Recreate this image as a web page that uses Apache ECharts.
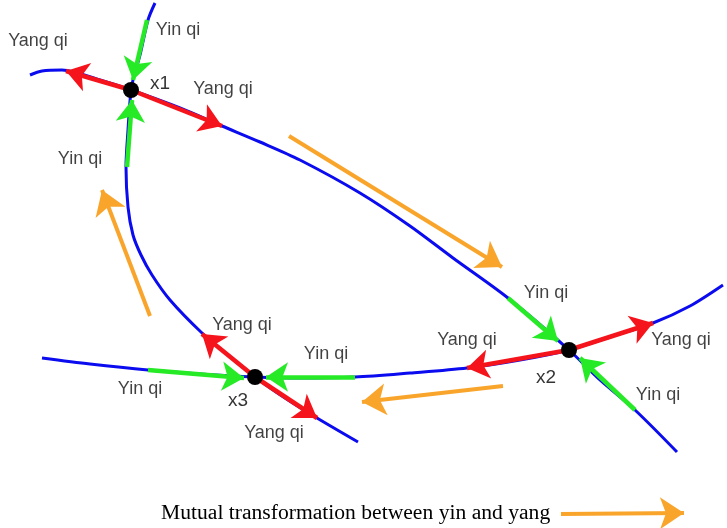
<!DOCTYPE html>
<html><head><meta charset="utf-8">
<script src="https://cdn.jsdelivr.net/npm/echarts@6/dist/echarts.min.js"></script>
<style>html,body{margin:0;padding:0;background:#fff}#c{width:727px;height:528px}</style>
</head><body><div id="c"></div>
<script>
// Curves (x, y in picture units, y downward)
const curveX1X2 = [[30,75],[42,71],[62,70],[100,80],[131,90],[180,108],[222,126],[260,142],[300,160],[360,193],[410,226],[453,258],[508,298],[569,350],[600,380],[635,410],[677,452]];
const curveX1X3 = [[155,3],[148,20],[140,55],[133,80],[131,90],[128,130],[126,167],[128,207],[133,235],[141,255],[152,275],[170,300],[202,333],[228,355],[255,377],[285,398],[317,418],[358,442]];
const curveX3X2 = [[42,358],[90,364],[148,370],[200,374],[255,377],[300,378],[355,377],[410,373],[467,368],[520,360],[569,350],[610,337],[653,323],[690,306],[723,285]];
// Equilibrium points
const pointNames = ['x1','x2','x3'];
const points = [[131,90],[569,350],[255,377]];
// Arrows: [from, to]
const yangArrows = [[[131,90],[66,71]],[[131,90],[222,126]],[[569,350],[467,368]],[[569,350],[653,323]],[[255,377],[202,334]],[[255,377],[317,418]]];
const yinArrows = [[[147,20],[133,80]],[[127,167],[132,100]],[[508,298],[558,341]],[[635,410],[580,358]],[[148,370],[244,378]],[[355,377],[266,377]]];
const flowArrows = [[[289,136],[502,267]],[[150,316],[102,190]],[[503,386],[362,402]]];
const legendArrow = [[[561,514],[684,513]]];
// Text labels
const labelTexts = ['Yang qi','Yin qi','Yang qi','Yin qi','Yin qi','Yang qi','Yang qi','Yin qi','Yang qi','Yin qi','Yin qi','Yang qi'];
const labelPos = [[38,41],[178,30],[223,89],[80,159],[546,293],[467,340],[681,340],[658,395],[242,325],[326,354],[140,389],[274,433]];
const pointLabelPos = [[160,84],[546,378],[238,401]];
const legendText = 'Mutual transformation between yin and yang';

const BLUE = '#0b0bef', RED = '#f5141b', GREEN = '#27ea27', ORANGE = '#f9a52c';
const chart = echarts.init(document.getElementById('c'));
const curve = d => ({type:'line', data:d, symbol:'none', smooth:0.3, lineStyle:{color:BLUE,width:3}, z:2, silent:true});
const arrows = (arr, color, w, size, z) => ({type:'lines', coordinateSystem:'cartesian2d', data:arr.map(a=>({coords:a})), symbol:['none','arrow'], symbolSize:size, lineStyle:{color:color,width:w,opacity:1}, z:z, silent:true});
chart.setOption({
  animation:false,
  grid:{left:0,right:0,top:0,bottom:0},
  xAxis:{type:'value',min:0,max:727,show:false},
  yAxis:{type:'value',min:0,max:528,inverse:true,show:false},
  series:[
    curve(curveX1X2), curve(curveX1X3), curve(curveX3X2),
    arrows(yangArrows, RED, 4.5, 22, 3),
    arrows(yinArrows, GREEN, 4.5, 22, 3),
    arrows(flowArrows, ORANGE, 4, 24, 3),
    arrows(legendArrow, ORANGE, 4, 24, 3),
    {type:'scatter', data:points, symbolSize:16, itemStyle:{color:'#000',opacity:1}, z:5, silent:true},
    {type:'scatter', data:labelPos.map((p,i)=>[p[0],p[1],labelTexts[i]]), symbolSize:1, itemStyle:{color:'rgba(0,0,0,0)'}, z:6, silent:true,
      label:{show:true, position:'inside', formatter:p=>p.value[2], color:'#111', fontFamily:'Liberation Sans', fontSize:18}},
    {type:'scatter', data:pointLabelPos.map((p,i)=>[p[0],p[1],pointNames[i]]), symbolSize:1, itemStyle:{color:'rgba(0,0,0,0)'}, z:6, silent:true,
      label:{show:true, position:'inside', formatter:p=>p.value[2], color:'#000', fontFamily:'Liberation Sans', fontSize:19}}
  ],
  graphic:[{type:'text', left:161, top:502, style:{text:legendText, font:'21.6px "Liberation Serif"', fill:'#000'}}]
});
</script>
</body></html>
